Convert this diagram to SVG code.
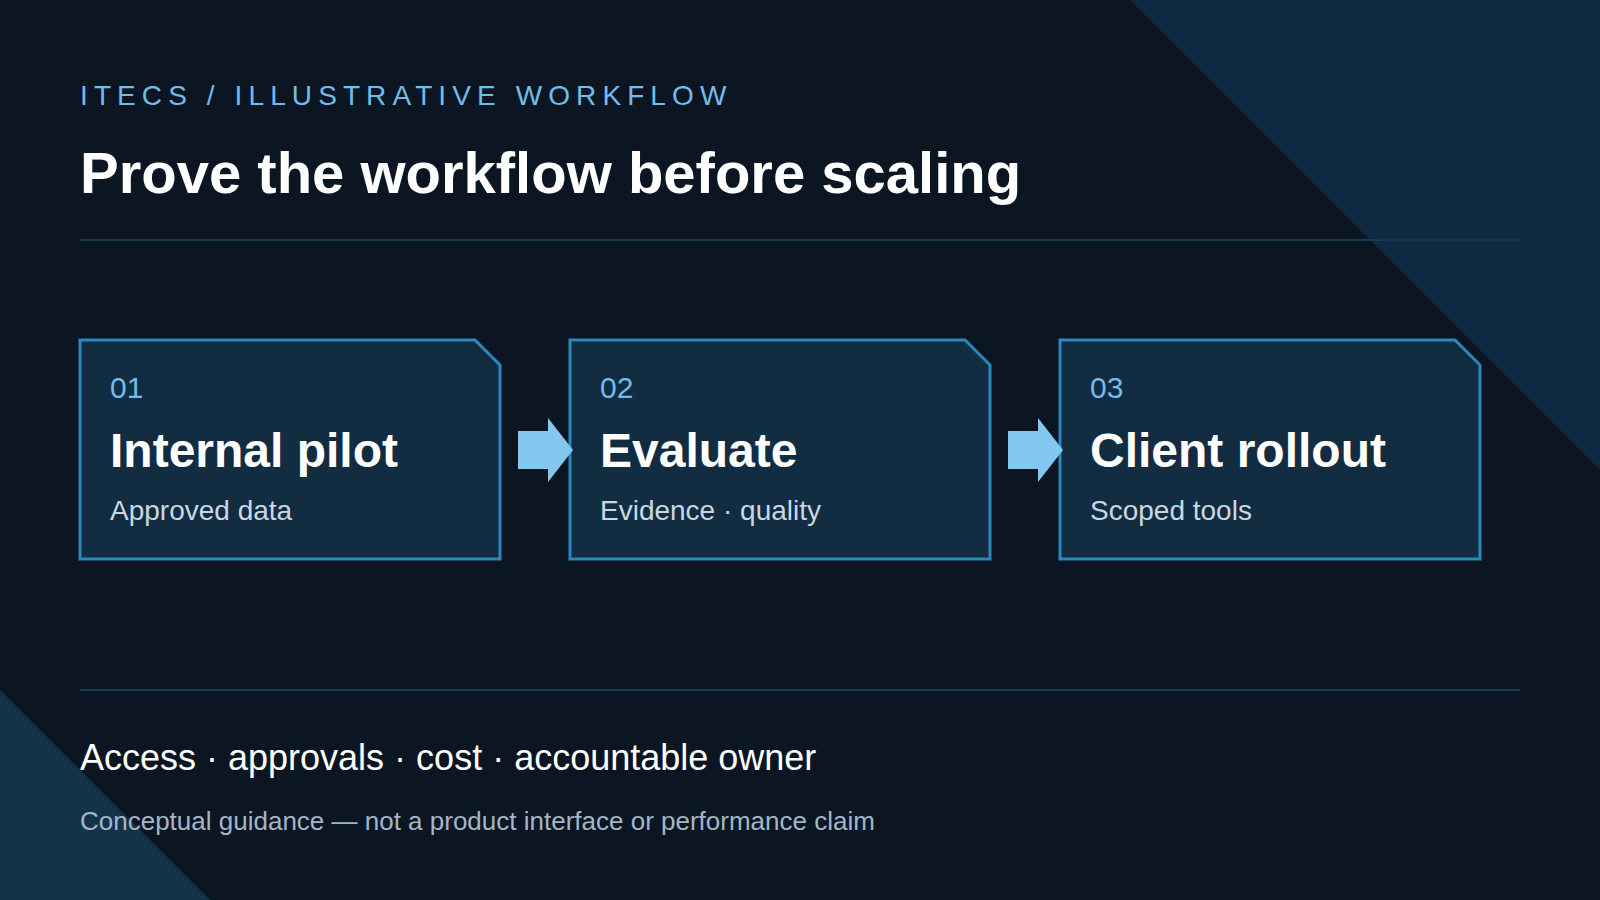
<svg xmlns="http://www.w3.org/2000/svg" width="1600" height="900" viewBox="0 0 1600 900">
  <style>
    .eyebrow { font-family: "Liberation Sans", Arial, sans-serif; font-size: 28px; fill: #72bce9; letter-spacing: 6.1px; }
    .title { font-family: "Liberation Sans", Arial, sans-serif; font-size: 58px; font-weight: bold; fill: #ffffff; }
    .card { fill: #122c42; stroke: #2c87bc; stroke-width: 3; }
    .num { font-family: "Liberation Sans", Arial, sans-serif; font-size: 30px; fill: #72bce9; }
    .ctitle { font-family: "Liberation Sans", Arial, sans-serif; font-size: 48px; font-weight: bold; fill: #ffffff; }
    .csub { font-family: "Liberation Sans", Arial, sans-serif; font-size: 28px; fill: #c9d7e3; }
    .rule { stroke: #173a52; stroke-width: 2; }
    .arrow { fill: #84c8f0; }
    .foot1 { font-family: "Liberation Sans", Arial, sans-serif; font-size: 36px; fill: #ffffff; }
    .foot2 { font-family: "Liberation Sans", Arial, sans-serif; font-size: 26px; fill: #a3b6c6; }
  </style>
  <rect x="0" y="0" width="1600" height="900" fill="#0b1622"/>
  <polygon points="1130,0 1600,0 1600,470" fill="#0f2a40"/>
  <polygon points="0,690 0,900 210,900" fill="#12344b"/>

  <text class="eyebrow" x="80" y="105">ITECS / ILLUSTRATIVE WORKFLOW</text>
  <text class="title" x="80" y="193">Prove the workflow before scaling</text>
  <line class="rule" x1="80" y1="240" x2="1520" y2="240"/>

  <g id="node-1">
    <path class="card" d="M80,340 H475 L500,365 V559 H80 Z"/>
    <text class="num" x="110" y="398">01</text>
    <text class="ctitle" x="110" y="467">Internal pilot</text>
    <text class="csub" x="110" y="520">Approved data</text>
  </g>
  <g id="node-2">
    <path class="card" d="M570,340 H965 L990,365 V559 H570 Z"/>
    <text class="num" x="600" y="398">02</text>
    <text class="ctitle" x="600" y="467">Evaluate</text>
    <text class="csub" x="600" y="520">Evidence · quality</text>
  </g>
  <g id="node-3">
    <path class="card" d="M1060,340 H1455 L1480,365 V559 H1060 Z"/>
    <text class="num" x="1090" y="398">03</text>
    <text class="ctitle" x="1090" y="467">Client rollout</text>
    <text class="csub" x="1090" y="520">Scoped tools</text>
  </g>

  <g id="connectors">
    <polygon class="arrow" points="518,431 548,431 548,418 573,450 548,482 548,469 518,469"/>
    <polygon class="arrow" points="1008,431 1038,431 1038,418 1063,450 1038,482 1038,469 1008,469"/>
  </g>

  <line class="rule" x1="80" y1="690" x2="1520" y2="690"/>
  <text class="foot1" x="80" y="770">Access · approvals · cost · accountable owner</text>
  <text class="foot2" x="80" y="830">Conceptual guidance — not a product interface or performance claim</text>
</svg>
